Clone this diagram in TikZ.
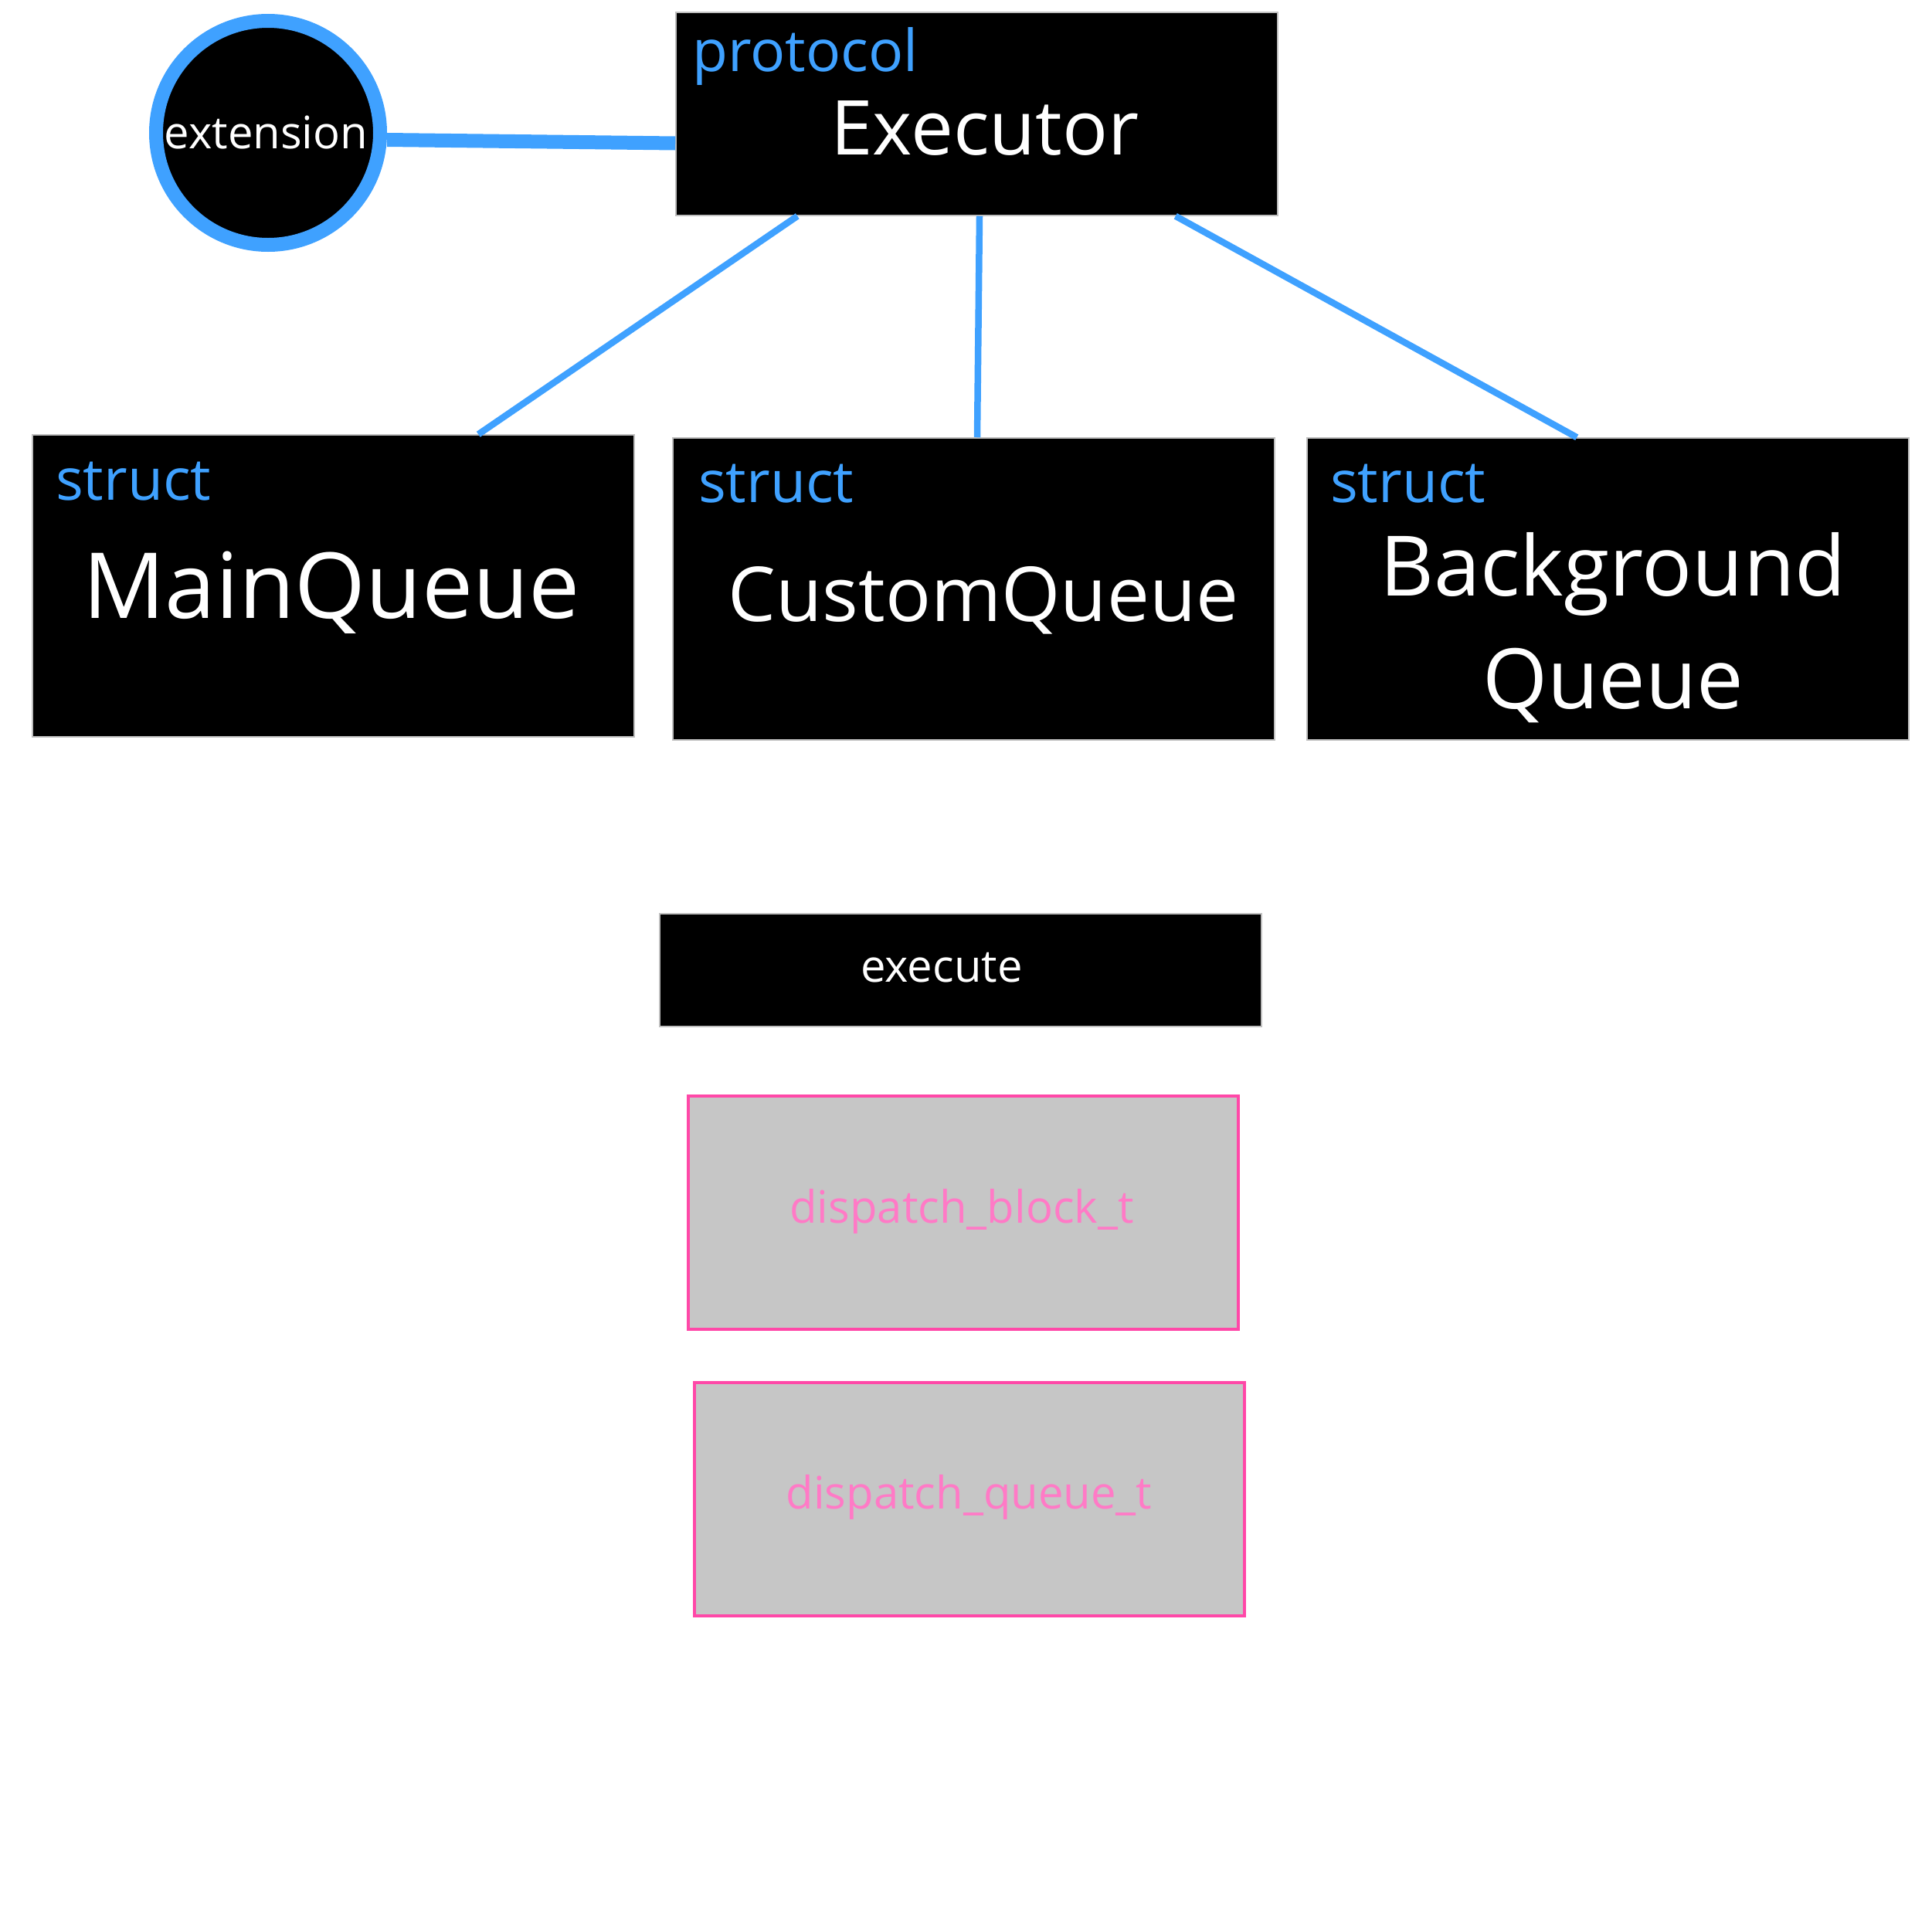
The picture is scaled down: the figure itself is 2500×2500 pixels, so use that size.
\documentclass[tikz,border=0pt]{standalone}
\usepackage{fontspec}
\setmainfont{Open Sans}
\usetikzlibrary{positioning}

\definecolor{swiftblue}{RGB}{63,161,255}
\definecolor{hotpink}{RGB}{255,72,168}
\definecolor{softpink}{RGB}{255,122,198}
\definecolor{boxgray}{RGB}{198,198,198}

\tikzset{
	blackbox/.style={shape=rectangle,fill=black,draw=black!25,line width=1.5pt,inner sep=0pt,minimum width=779pt},
	graybox/.style={shape=rectangle,fill=boxgray,draw=hotpink,line width=3.5pt,inner sep=0pt,minimum width=712pt,minimum height=302pt},
	kind/.style={text=swiftblue,inner sep=0pt,anchor=base west,font=\fontsize{75}{90}\selectfont},
	title/.style={text=white,inner sep=0pt,anchor=base},
	link/.style={draw=swiftblue,line width=8.5pt},
}

\begin{document}
\begin{tikzpicture}[x=1pt,y=-1pt]

	\useasboundingbox (0, 0) rectangle (2500, 2500);

	\node[blackbox,minimum height=263pt] (exec) at (1264.5, 147.5) {};
	\node[blackbox,minimum height=391pt] (main) at (431.5, 758.5) {};
	\node[blackbox,minimum height=391pt] (custom) at (1260.5, 762.5) {};
	\node[blackbox,minimum height=391pt] (bg) at (2081.5, 762.5) {};
	\node[blackbox,minimum height=146pt] (execute) at (1243.5, 1256) {};
	\node[graybox] (block) at (1247, 1570) {};
	\node[graybox] (queue) at (1255, 1941) {};
	\node[shape=circle,fill=black,draw=swiftblue,line width=18pt,minimum size=290pt,inner sep=0pt] (ext) at (347, 172) {};

	% texts
	\node[kind] (execkind) at (896, 92) {protocol};
	\node[title,font=\fontsize{98}{110}\selectfont] (exectitle) at (1275, 200) {Executor};
	\node[title,font=\fontsize{58}{70}\selectfont] (exttitle) at (344.5, 192) {extension};

	\node[kind] (mainkind) at (72, 647) {struct};
	\node[kind] (customkind) at (904, 650) {struct};
	\node[kind] (bgkind) at (1722, 650) {struct};
	\node[title,font=\fontsize{118}{130}\selectfont] (maintitle) at (429, 800) {MainQueue};
	\node[title,font=\fontsize{98}{110}\selectfont] (customtitle) at (1273, 804) {CustomQueue};
	\node[title,font=\fontsize{108}{146}\selectfont,align=center] (bgtitle) at (2088, 917) {Background\\Queue};

	\node[title,font=\fontsize{58}{70}\selectfont] (executetitle) at (1219, 1271) {execute};
	\node[title,text=softpink,font=\fontsize{58}{70}\selectfont] (blocktitle) at (1245, 1583) {dispatch\_block\_t};
	\node[title,text=softpink,font=\fontsize{58}{70}\selectfont] (queuetitle) at (1254.5, 1953) {dispatch\_queue\_t};

	\path[link,line width=18pt] ([yshift=-9pt]ext.east) edge ([yshift=-38pt]exec.west);
	\path[link] ([xshift=158pt]exec.south west) edge ([xshift=578pt]main.north west);
	\path[link] ([xshift=3.5pt]exec.south) edge ([xshift=4.5pt]custom.north);
	\path[link] ([xshift=-133pt]exec.south east) edge ([xshift=350pt]bg.north west);

\end{tikzpicture}
\end{document}
